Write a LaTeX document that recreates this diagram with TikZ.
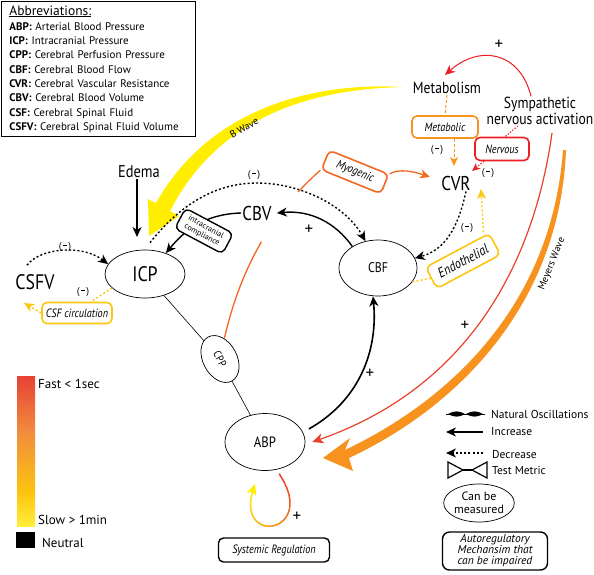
\documentclass[tikz,border=0pt]{standalone}
\usepackage{fontspec}
\usepackage{graphicx}
\setmainfont{PT Sans}
\usetikzlibrary{arrows.meta,shapes.geometric,calc}
\definecolor{cred}{RGB}{237,30,36}
\definecolor{cline}{RGB}{234,64,42}
\definecolor{corg}{RGB}{242,103,34}
\definecolor{cmeta}{RGB}{247,148,29}
\definecolor{cgold}{RGB}{253,198,16}
\definecolor{cyel}{RGB}{255,238,0}
\definecolor{cmey}{RGB}{247,146,30}
\definecolor{cbarA}{RGB}{232,65,52}
\definecolor{cbarB}{RGB}{241,140,62}
\definecolor{cbarC}{RGB}{252,196,14}
\definecolor{cbarD}{RGB}{255,238,60}
\newcommand\fs[1]{\fontsize{#1}{#1}\selectfont}
\newcommand\cond[1]{\scalebox{0.85}[1]{#1}}
\newcommand\minuslbl{(\,\rule[0.62ex]{3.2pt}{0.9pt}\,)}
\tikzset{
  meas/.style={draw, ellipse, line width=0.7pt, inner sep=0pt},
  mech/.style={draw, rounded corners=5pt, line width=1.6pt, fill=white, inner sep=1pt, align=center},
  inc/.style={-{Stealth[length=10pt,width=9pt,inset=3pt]}, line width=1.4pt},
  dec/.style={inc, dash pattern=on 2pt off 2.2pt},
  sml/.style={font=\fs{10}, inner sep=0pt},
  pls/.style={font=\fs{17}, inner sep=0pt},
  lbl/.style={inner sep=1pt},
}
\begin{document}
\begin{tikzpicture}[x=1pt,y=-1pt]
\useasboundingbox (0,0) rectangle (594,574);

% ---------- big waves ----------
\fill[cyel] (403,87) .. controls (315,82) and (210,107) .. (156,203) -- (148,199) -- (149,236) -- (179,216) -- (170,211) .. controls (220,114) and (315,89) .. (403,87) -- cycle;
\fill[cmey] (566,150) .. controls (560,301) and (462,405) .. (349,458) -- (353,471) -- (323,458) -- (350,438) -- (345,450) .. controls (458,396) and (552,299) .. (563,150) -- cycle;
\node[lbl, font=\fs{10}, rotate=30] (bw) at (244,128) {B Wave};
\node[lbl, font=\fs{10}, rotate=68] (mw) at (552,264) {Meyers Wave};

% ---------- abbreviations ----------
\node[draw, line width=0.8pt, anchor=north west, inner xsep=8pt, inner ysep=4pt, text width=178pt, align=left, font=\fontsize{11}{14.3}\selectfont] (abbr) at (1,1) {{\fontsize{13.5}{15}\selectfont\underline{Abbreviations:}}\\[1pt]
\textbf{ABP:} Arterial Blood Pressure\\
\textbf{ICP:} Intracranial Pressure\\
\textbf{CPP:} Cerebral Perfusion Pressure\\
\textbf{CBF:} Cerebral Blood Flow\\
\textbf{CVR:} Cerebral Vascular Resistance\\
\textbf{CBV:} Cerebral Blood Volume\\
\textbf{CSF:} Cerebral Spinal Fluid\\
\textbf{CSFV:} Cerebral Spinal Fluid Volume};

% ---------- measurable nodes ----------
\node[meas, minimum width=80pt, minimum height=48pt] (icp) at (145,274) {\fs{21}\cond{ICP}};
\node[meas, minimum width=78pt, minimum height=56pt] (cbf) at (378,268) {\fs{14}\cond{CBF}};
\node[meas, minimum width=80pt, minimum height=57pt] (abp) at (265,442) {\fs{15}\cond{ABP}};
\node[meas, minimum width=50pt, minimum height=34pt, rotate=-62] (cpp) at (220,359) {\fs{11}\cond{CPP}};

% ---------- plain labels ----------
\node[lbl] (edema) at (139,172) {\fs{17}\cond{Edema}};
\node[lbl] (cbv) at (257,213) {\fs{20}\cond{CBV}};
\node[lbl] (csfv) at (35,282) {\fs{21}\cond{CSFV}};
\node[lbl] (cvr) at (456,183) {\fs{20}\cond{CVR}};
\node[lbl] (metab) at (447,88) {\fs{16}\cond{Metabolism}};
\node[lbl, align=center, font=\fontsize{16}{13}\selectfont] (symp) at (540,111) {\cond{Sympathetic}\\\cond{nervous activation}};

% ---------- mechanism boxes ----------
\node[mech, draw=corg, rotate=-22, minimum width=64pt, minimum height=21pt] (myo) at (355,172) {\itshape\fs{12}\cond{Myogenic}};
\node[mech, draw=cmeta, minimum width=66pt, minimum height=22pt] (metabolic) at (445,127) {\itshape\fs{12}\cond{Metabolic}};
\node[mech, draw=cred, minimum width=54pt, minimum height=23pt] (nerv) at (502,149) {\itshape\fs{12}\cond{Nervous}};
\node[mech, draw=cgold, rotate=28, minimum width=72pt, minimum height=24pt] (endo) at (463,261) {\itshape\fs{14}\cond{Endothelial}};
\node[mech, draw=cgold, minimum width=70pt, minimum height=21pt] (csfc) at (77,313) {\itshape\fs{12}\cond{CSF circulation}};
\node[mech, draw=black, line width=1.4pt, minimum width=111pt, minimum height=24pt] (sysreg) at (274,550) {\itshape\fs{12}\cond{Systemic Regulation}};

% ---------- signs ----------
\node[sml] (m1) at (65,247) {\minuslbl};
\node[sml] (m2) at (83,292) {\minuslbl};
\node[sml] (m3) at (254,175) {\minuslbl};
\node[sml] (m4) at (437,150) {\minuslbl};
\node[sml] (m5) at (488,173) {\minuslbl};
\node[sml] (m6) at (467,228) {\minuslbl};
\node[pls] (p1) at (309,230) {+};
\node[pls] (p2) at (499,45) {+};
\node[pls] (p3) at (370,374) {+};
\node[pls] (p4) at (465,326) {+};
\node[pls] (p5) at (297,517) {+};

% ---------- connectors ----------
\coordinate (edtip) at (137,237);
\draw[inc] ([xshift=-2pt]edema.south) -- (edtip);
\draw[dec] ([shift={(-8,-8)}]csfv.north) .. controls (40,248) and (82,244) .. (icp.165);
\draw[cgold, line width=1.4pt, dash pattern=on 2pt off 2.2pt] (icp.203) -- ([xshift=-22pt]csfc.north east);
\coordinate (cstip) at (24,303);
\draw[cgold, dec] (csfc.west) -- (cstip);
\draw[dec] ([shift={(5,-7)}]icp.north) .. controls (180,205) and (215,183) .. (257,183) .. controls (300,183) and (345,205) .. (cbf.115);
\draw[inc] (cbv.west) .. controls (205,214) and (185,230) .. (icp.45);
\draw[inc] (cbf.140) .. controls (335,222) and (310,210) .. ([xshift=4pt]cbv.east);
\draw[corg, line width=1.3pt, dash pattern=on 104pt off 62pt on 100pt off 10pt] (cpp.140) .. controls (240,270) and (270,215) .. (myo.south west);
\coordinate (myotip) at (430,177);
\draw[corg, line width=1.3pt, -{Stealth[length=10pt,width=9pt,inset=3pt]}] (myo.north east) .. controls (400,168) and (415,172) .. (myotip);
\draw[cmeta, line width=1pt, dash pattern=on 3pt off 2pt] (metab.south) -- (metabolic.north);
\coordinate (mtip) at (454,166);
\draw[cmeta, line width=1pt, dash pattern=on 3pt off 2pt, -{Stealth[length=9pt,width=8pt,inset=2.5pt]}] ([xshift=9pt]metabolic.south) -- (mtip);
\coordinate (mettip) at (445,75);
\draw[cred, line width=1pt, -{Stealth[length=10pt,width=9pt,inset=3pt]}] ([xshift=-9pt]symp.north) .. controls (520,52) and (480,44) .. (mettip);
\draw[cred, line width=1pt, dash pattern=on 1.5pt off 1.5pt] ([xshift=-22pt]symp.south) -- ([xshift=3pt]nerv.north);
\coordinate (ntip) at (472,171);
\draw[cred, line width=1pt, dash pattern=on 1.5pt off 1.5pt, -{Stealth[length=8pt,width=7pt,inset=2pt]}] ([xshift=-18pt]nerv.south) -- (ntip);
\draw[dec] ([xshift=10pt]cvr.south) .. controls (458,228) and (445,250) .. (cbf.15);
\coordinate (etip) at (481,189);
\draw[cgold, dec] ([xshift=-6pt]endo.north east) -- (etip);
\draw[cgold, line width=1.4pt, dash pattern=on 2pt off 2.2pt] (cbf.-22) -- (endo.west);
\draw[inc, line width=1.6pt] ([xshift=8pt]abp.20) .. controls (360,400) and (378,350) .. ([xshift=-5pt]cbf.south);
\coordinate (rs) at (552,133);
\draw[cline, line width=1.2pt, -{Stealth[length=11pt,width=10pt,inset=3pt]}] (rs) .. controls (535,255) and (475,385) .. ([xshift=7pt]abp.east);
\draw[line width=0.6pt] (icp) -- (cpp);
\draw[line width=0.6pt] (cpp) -- (abp);

% intracranial compliance box (over the curves)
\node[mech, draw=black, line width=1.4pt, rotate=-28, minimum width=54pt, minimum height=23pt, font=\fontsize{8}{8.5}\selectfont] (icomp) at (204,231) {intracranial\\compliance};

% ---------- ABP loop with gradient ----------
\coordinate (lp0) at ([yshift=-5pt]abp.-62);
\coordinate (ltip) at (255,484);
\path (lp0) .. controls (320,535) and (230,548) .. (ltip)
  foreach \i [evaluate=\i as \t using \i/24] in {0,...,24} { coordinate[pos=\t] (g\i) };
\foreach \i [count=\j from 1, evaluate=\i as \pc using int(100*\i/23)] in {0,...,22} {
  \draw[line width=1.5pt, line cap=round, color=cyel!\pc!cline] (g\i) -- (g\j);
}
\draw[cyel, line width=1.5pt, -{Stealth[length=11pt,width=10pt,inset=3pt]}] (g23) -- (g24);

% ---------- colour bar ----------
\shade[top color=cbarA, bottom color=cbarB] (17,376) rectangle (35,431.5);
\shade[top color=cbarB, bottom color=cbarC] (17,431) rectangle (35,492.5);
\shade[top color=cbarC, bottom color=cbarD] (17,492) rectangle (35,526);
\node[lbl, anchor=west, font=\fs{13}] (fast) at (37,384) {Fast < 1sec};
\node[lbl, anchor=west, font=\fs{13}] (slow) at (37,520) {Slow > 1min};
\node[fill=black, minimum width=19pt, minimum height=16pt, inner sep=0pt] (nsq) at (25.5,540) {};
\node[lbl, anchor=west, font=\fs{13}] (neut) at (41,543) {Neutral};

% ---------- legend ----------
\fill (448,414) .. controls (454,410.5) and (459,410.5) .. (465,414) .. controls (459,417.5) and (454,417.5) .. (448,414);
\fill (466,414) .. controls (472,410.5) and (477,410.5) .. (483,414) .. controls (477,417.5) and (472,417.5) .. (466,414);
\draw[line width=0.8pt] (446,414) -- (485,414);
\node[lbl, anchor=west, font=\fs{11.5}] (leg1) at (490,414) {Natural Oscillations};
\coordinate (la1) at (483,432);
\coordinate (la2) at (446,432);
\draw[inc] (la1) -- (la2);
\node[lbl, anchor=west, font=\fs{11.5}] (leg2) at (490,432) {Increase};
\coordinate (ld1) at (483,453);
\coordinate (ld2) at (446,453);
\draw[dec] (ld1) -- (ld2);
\node[lbl, anchor=west, font=\fs{11.5}] (leg3) at (491,454) {Decrease};
\draw[line width=1.2pt] (448,462) -- (463,470) -- (448,478) -- cycle;
\draw[line width=1.2pt] (487,462) -- (472,470) -- (487,478) -- cycle;
\draw[line width=1.6pt] (463,470) -- (472,470);
\node[lbl, anchor=west, font=\fs{11.5}] (leg4) at (491,470) {Test Metric};
\node[meas, minimum width=68pt, minimum height=38pt, align=center, font=\fontsize{12}{13}\selectfont] (legm) at (479,503) {Can be\\measured};
\node[mech, draw=black, line width=1.4pt, minimum width=105pt, minimum height=38pt, rounded corners=7pt, font=\fontsize{11.5}{11}\selectfont\itshape] (lega) at (495,551) {Autoregulatory\\Mechansim that\\can be impaired};

\end{tikzpicture}
\end{document}
